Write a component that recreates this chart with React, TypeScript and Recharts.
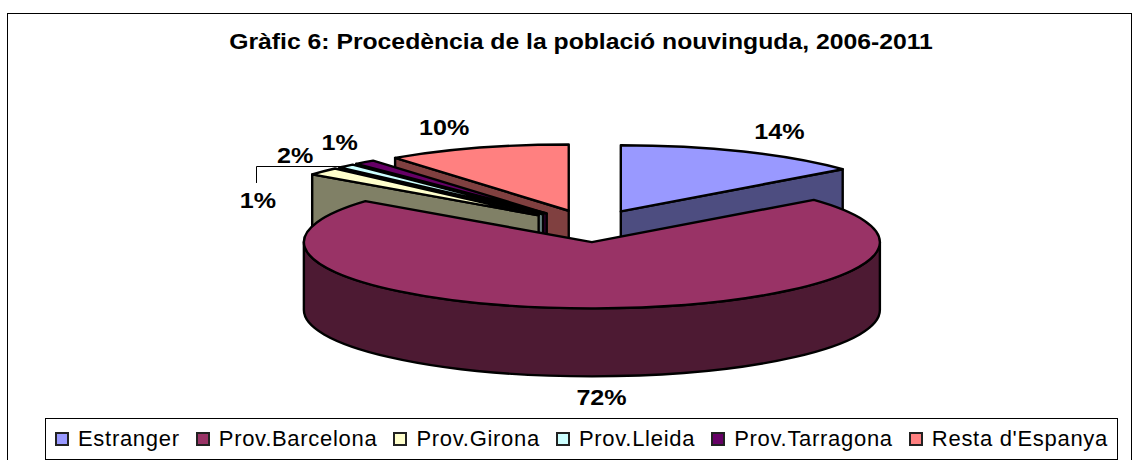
import { PieChart, Pie, Legend } from "recharts";

const CATEGORIES = [
  "Estranger",
  "Prov.Barcelona",
  "Prov.Girona",
  "Prov.Lleida",
  "Prov.Tarragona",
  "Resta d'Espanya",
];
// labels show these rounded to whole percents
const VALUES = [14, 71.6, 1.9, 1.0, 1.2, 10.3];
const FILLS = ["#9999FF", "#993366", "#FFFFCC", "#CCFFFF", "#660066", "#FF8080"];
const WALLS = ["#4D4D80", "#4D1A33", "#808066", "#668080", "#330033", "#804040"];

const data = CATEGORIES.map((name, i) => ({
  name,
  value: VALUES[i],
  fill: FILLS[i],
  wall: WALLS[i],
}));

// back to front, Barcelona has to cover everything
const DRAW_ORDER = [
  "Resta d'Espanya",
  "Prov.Tarragona",
  "Prov.Lleida",
  "Prov.Girona",
  "Estranger",
  "Prov.Barcelona",
];

const TILT = 0.23;
const DEPTH = 68;
const EXPLODE = 0.243;
const FONT = "'Liberation Sans', Arial, sans-serif";

// label position relative to the rim of its slice
const LABEL_NUDGE: Record<string, [number, number]> = {
  Estranger: [36, -20],
  "Prov.Barcelona": [6, 21],
  "Prov.Girona": [-28, -16],
  "Prov.Lleida": [-88, 35],
  "Prov.Tarragona": [-25, -20],
  "Resta d'Espanya": [-33, -20],
};

const RAD = Math.PI / 180;

const sliceGeometry = (cx: number, cy: number, r: number, mid: number) => {
  const rx = r;
  const ry = r * TILT;
  const ax = cx + EXPLODE * rx * Math.cos(mid * RAD);
  const ay = cy - EXPLODE * ry * Math.sin(mid * RAD);
  const at = (deg: number) => ({
    x: ax + rx * Math.cos(deg * RAD),
    y: ay - ry * Math.sin(deg * RAD),
  });
  return { rx, ry, ax, ay, at };
};

const Slice3D = (props: any) => {
  const { cx, cy, outerRadius, startAngle, endAngle, fill, wall } = props;
  const mid = (startAngle + endAngle) / 2;
  const { rx, ry, ax, ay, at } = sliceGeometry(cx, cy, outerRadius, mid);
  const a = at(startAngle);
  const b = at(endAngle);
  const large = startAngle - endAngle > 180 ? 1 : 0;
  const stroke = { stroke: "#000", strokeWidth: 2.4, strokeLinejoin: "round" as const };

  // only the cut that faces the viewer shows
  const cut = Math.cos(mid * RAD) > 0 ? b : a;

  // outer wall only where the rim faces the viewer
  const hasFront = startAngle - endAngle > 180;
  const left = at(180);
  const right = at(0);

  return (
    <g>
      {!hasFront && (
        <path
          d={`M${ax},${ay} L${cut.x},${cut.y} L${cut.x},${cut.y + DEPTH} L${ax},${ay + DEPTH} Z`}
          fill={wall}
          {...stroke}
        />
      )}
      {hasFront && (
        <path
          d={`M${left.x},${left.y} A${rx},${ry} 0 0 0 ${right.x},${right.y} L${right.x},${right.y + DEPTH} A${rx},${ry} 0 0 1 ${left.x},${left.y + DEPTH} Z`}
          fill={wall}
          {...stroke}
        />
      )}
      <path
        d={`M${ax},${ay} L${a.x},${a.y} A${rx},${ry} 0 ${large} 1 ${b.x},${b.y} Z`}
        fill={fill}
        {...stroke}
      />
    </g>
  );
};

const renderLabel = (props: any) => {
  const { cx, cy, outerRadius, midAngle, name, value } = props;
  const { at } = sliceGeometry(cx, cy, outerRadius, midAngle);
  const rim = at(midAngle);
  const front = Math.sin(midAngle * RAD) < 0 ? DEPTH : 0;
  const [dx, dy] = LABEL_NUDGE[name];
  const x = rim.x + dx;
  const y = rim.y + front + dy;
  // snap the leader to the pixel grid so it stays a crisp black line
  const lineX = Math.round(x - 2) + 0.5;
  const lineY = Math.round(rim.y) + 0.5;
  return (
    <g>
      {name === "Prov.Lleida" && (
        <polyline
          points={`${rim.x},${lineY} ${lineX},${lineY} ${lineX},${y - 18}`}
          fill="none"
          stroke="#000"
          strokeWidth={1}
        />
      )}
      <text
        transform={`translate(${x},${y}) scale(1.14,1)`}
        textAnchor="middle"
        dominantBaseline="central"
        fontFamily={FONT}
        fontWeight="bold"
        fontSize={22}
        fill="#000"
      >
        {Math.round(value)}%
      </text>
    </g>
  );
};

const renderLegend = (props: any) => {
  // every Pie pass reports its slices, keep one of each
  const items = CATEGORIES.map((name) =>
    props.payload.find((item: any) => item.value === name)
  ).filter(Boolean);
  return (
    <div
      style={{
        boxSizing: "border-box",
        width: 1073,
        height: 42,
        border: "1.5px solid #000",
        background: "#fff",
        display: "flex",
        alignItems: "center",
        justifyContent: "space-between",
        padding: "0 9px",
        fontFamily: FONT,
        fontSize: 22,
        letterSpacing: 0.7,
        whiteSpace: "nowrap",
        color: "#000",
      }}
    >
      {items.map((item: any) => (
        <span key={item.value} style={{ display: "flex", alignItems: "center", gap: 9 }}>
          <span
            style={{
              boxSizing: "border-box",
              width: 14,
              height: 14,
              border: "2px solid #222",
              background: item.payload.fill,
            }}
          />
          {item.value}
        </span>
      ))}
    </div>
  );
};

export default function App() {
  return (
    <div
      style={{
        position: "absolute",
        left: 0,
        top: 0,
        width: 1139,
        height: 460,
        overflow: "hidden",
        background: "#fff",
      }}
    >
      {/* chart frame, runs off the bottom of the picture */}
      <div
        style={{
          position: "absolute",
          left: 7,
          top: 13,
          width: 1123,
          height: 470,
          border: "1.5px solid #000",
        }}
      />
      <div
        style={{
          position: "absolute",
          left: 0,
          top: 30,
          width: 1162,
          textAlign: "center",
          fontFamily: FONT,
          fontWeight: "bold",
          fontSize: 21.5,
          transform: "scaleX(1.15)",
          transformOrigin: "581px 0",
          whiteSpace: "nowrap",
          color: "#000",
        }}
      >
        Gràfic 6: Procedència de la població nouvinguda, 2006-2011
      </div>
      <PieChart
        width={1139}
        height={460}
        margin={{ top: 0, right: 0, bottom: 0, left: 0 }}
        style={{ position: "absolute", left: 0, top: 0 }}
      >
        {DRAW_ORDER.map((layer) => (
          <Pie
            key={layer}
            data={data}
            dataKey="value"
            nameKey="name"
            cx={591}
            cy={226}
            outerRadius={288}
            startAngle={90}
            endAngle={-270}
            stroke="none"
            legendType="none"
            isAnimationActive={false}
            shape={(p: any) => (p.name === layer ? <Slice3D {...p} /> : <g />)}
          />
        ))}
        {/* last pass draws only the labels and feeds the legend */}
        <Pie
          data={data}
          dataKey="value"
          nameKey="name"
          cx={591}
          cy={226}
          outerRadius={288}
          startAngle={90}
          endAngle={-270}
          stroke="none"
          label={renderLabel}
          labelLine={false}
          isAnimationActive={false}
          shape={() => <g />}
        />
        <Legend
          content={renderLegend}
          wrapperStyle={{ left: 45, top: 418, width: 1073, bottom: "auto" }}
        />
      </PieChart>
    </div>
  );
}
